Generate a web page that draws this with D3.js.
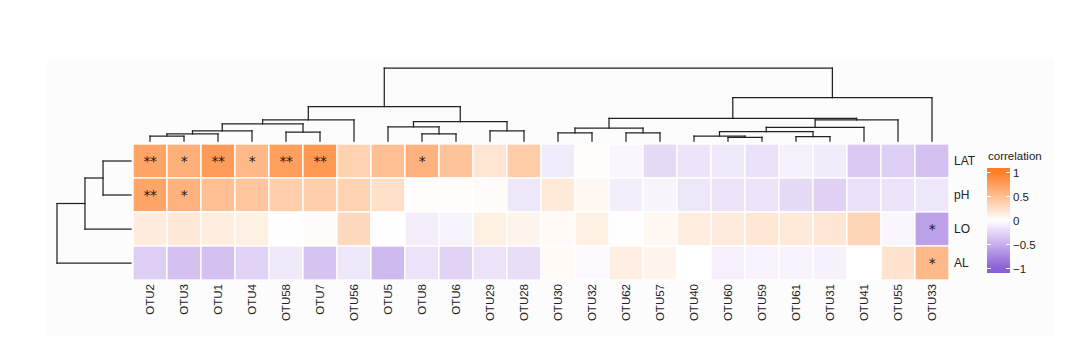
<!DOCTYPE html>
<html><head><meta charset="utf-8">
<script src="https://cdn.jsdelivr.net/npm/d3@7"></script>
<style>
html,body{margin:0;padding:0;background:#fff;}
svg{display:block;font-family:"Liberation Sans",Arial,sans-serif;}
</style></head>
<body><svg id="c" width="1080" height="357"></svg>
<script>
// ---------- data ----------
const colLabels = ["OTU2","OTU3","OTU1","OTU4","OTU58","OTU7","OTU56","OTU5","OTU8","OTU6","OTU29","OTU28",
  "OTU30","OTU32","OTU62","OTU57","OTU40","OTU60","OTU59","OTU61","OTU31","OTU41","OTU55","OTU33"];
const rowLabels = ["LAT","pH","LO","AL"];

const valLAT = [0.70,0.62,0.78,0.55,0.75,0.80,0.35,0.50,0.60,0.47,0.20,0.40,
  -0.12,0.02,-0.05,-0.22,-0.16,-0.13,-0.19,-0.09,-0.11,-0.33,-0.30,-0.38];
const valPH  = [0.70,0.60,0.50,0.45,0.38,0.38,0.35,0.25,0.02,0.02,0.03,-0.15,
  0.17,0.06,-0.10,-0.06,-0.15,-0.17,-0.17,-0.22,-0.28,-0.18,-0.17,-0.15];
const valLO  = [0.15,0.18,0.14,0.12,-0.01,0.03,0.30,-0.01,-0.10,-0.07,0.12,0.09,
  0.04,0.12,-0.01,0.06,0.14,0.16,0.19,0.17,0.20,0.33,-0.05,-0.58];
const valAL  = [-0.30,-0.38,-0.38,-0.27,-0.13,-0.36,-0.15,-0.42,-0.17,-0.27,-0.17,-0.20,
  0.04,-0.04,0.13,0.08,0.00,-0.09,-0.07,-0.07,-0.08,0.00,0.22,0.55];

const sigLAT = ["**","*","**","*","**","**","","","*","","","","","","","","","","","","","","",""];
const sigPH  = ["**","*","","","","","","","","","","","","","","","","","","","","","",""];
const sigLO  = ["","","","","","","","","","","","","","","","","","","","","","","","*"];
const sigAL  = ["","","","","","","","","","","","","","","","","","","","","","","","*"];

// column clustering: [left, right, height]; strings = leaves, numbers = earlier merges
const colMerge = [
  ["OTU2","OTU3",0.068], [0,"OTU1",0.096], [1,"OTU4",0.137], ["OTU58","OTU7",0.123],
  [2,3,0.233], [4,"OTU56",0.288], ["OTU8","OTU6",0.096], ["OTU5",6,0.192],
  ["OTU29","OTU28",0.137], [7,8,0.264], [5,9,0.47], ["OTU30","OTU32",0.11],
  ["OTU62","OTU57",0.11], [11,12,0.178], ["OTU60","OTU59",0.05], ["OTU40",14,0.068],
  ["OTU61","OTU31",0.059], [15,16,0.127], [17,"OTU41",0.188], [18,"OTU55",0.288],
  [13,19,0.311], [20,"OTU33",0.593], [10,21,1.0]
];
const rowMerge = [["LAT","pH",0.378],[0,"LO",0.622],[1,"AL",1.0]];

const legendTicks = [-1,-0.5,0,0.5,1];
const legendTickLabels = ["\u22121","\u22120.5","0","0.5","1"];

// ---------- layout ----------
const svg = d3.select("#c");
svg.append("rect").attr("x",47).attr("y",59).attr("width",1007).attr("height",277).attr("fill","#fcfcfc");

const x = d3.scaleBand().domain(colLabels).range([133,949]).padding(0);
const y = d3.scaleBand().domain(rowLabels).range([144,280]).padding(0);
const color = d3.scaleLinear().domain([-1,0,1]).range(["#8860d6","#ffffff","#ff7d24"])
  .interpolate(d3.interpolateLab).clamp(true);

const rows = [valLAT,valPH,valLO,valAL];
const sigs = [sigLAT,sigPH,sigLO,sigAL];
const cells = [];
rowLabels.forEach((r,i)=>colLabels.forEach((c,j)=>cells.push({r,c,v:rows[i][j],s:sigs[i][j]})));

const g = svg.append("g");
g.selectAll("rect.cell").data(cells).join("rect").attr("class","cell")
  .attr("x",d=>x(d.c)).attr("y",d=>y(d.r))
  .attr("width",x.bandwidth()).attr("height",y.bandwidth())
  .attr("fill",d=>color(d.v)).attr("stroke","#ffffff").attr("stroke-width",1.3);

g.selectAll("text.sig").data(cells.filter(d=>d.s)).join("text").attr("class","sig")
  .attr("x",d=>x(d.c)+x.bandwidth()/2).attr("y",d=>y(d.r)+y.bandwidth()/2+5)
  .attr("text-anchor","middle").attr("font-size",14).attr("fill","#1a1a1a")
  .attr("font-family","'DejaVu Sans',sans-serif").attr("letter-spacing",-0.5)
  .text(d=>d.s);

// axis labels
const xAxis = d3.axisBottom(x).tickSize(0).tickPadding(0);
const xa = svg.append("g").attr("transform","translate(0,284)").call(xAxis);
xa.select(".domain").remove();
xa.selectAll("text").attr("font-size",11.5).attr("fill","#222")
  .attr("font-family","'Liberation Sans',Arial,sans-serif")
  .attr("transform","rotate(-90)").attr("text-anchor","end")
  .attr("x",0).attr("y",0).attr("dx",0).attr("dy","0.35em");

const yAxis = d3.axisRight(y).tickSize(0).tickPadding(0);
const ya = svg.append("g").attr("transform","translate(954,0)").call(yAxis);
ya.select(".domain").remove();
ya.selectAll("text").attr("font-size",12).attr("fill","#222")
  .attr("font-family","'Liberation Sans',Arial,sans-serif");

// ---------- dendrograms ----------
function buildTree(merge){
  const nodes = merge.map(()=>null);
  const leaf = n => ({name:n, height:0});
  merge.forEach((m,i)=>{
    const kids = [m[0],m[1]].map(k=> typeof k==="string" ? leaf(k) : nodes[k]);
    nodes[i] = {name:"n"+i, height:m[2], children:kids};
  });
  return d3.hierarchy(nodes[nodes.length-1]);
}
function drawDendro(root, posScale, hScale, vertical, leafEnd){
  root.eachAfter(n=>{
    if(!n.children) n.p = posScale(n.data.name)+posScale.bandwidth()/2;
    else n.p = (n.children[0].p + n.children[1].p)/2;
    n.h = n.children ? hScale(n.data.height) : leafEnd;
  });
  const segs = [];
  root.each(n=>{
    if(!n.children) return;
    const [a,b] = n.children;
    segs.push([a.p,n.h,b.p,n.h]);
    segs.push([a.p,n.h,a.p,a.h]);
    segs.push([b.p,n.h,b.p,b.h]);
  });
  const gd = svg.append("g").attr("stroke","#222").attr("stroke-width",1.25).attr("fill","none");
  gd.selectAll("line").data(segs).join("line")
    .attr("x1",d=> vertical? d[0]:d[1]).attr("y1",d=> vertical? d[1]:d[0])
    .attr("x2",d=> vertical? d[2]:d[3]).attr("y2",d=> vertical? d[3]:d[2])
    .attr("stroke-linecap","square");
}
const colH = d3.scaleLinear().domain([0,1]).range([141,68]);
drawDendro(buildTree(colMerge), x, colH, true, 141);
const rowH = d3.scaleLinear().domain([0,1]).range([131,57]);
drawDendro(buildTree(rowMerge), y, rowH, false, 131);

// ---------- legend ----------
const lg = svg.append("g");
const lY = d3.scaleLinear().domain([-1,1]).range([268.5,172.5]);
const defs = svg.append("defs");
const grad = defs.append("linearGradient").attr("id","lg").attr("x1",0).attr("x2",0).attr("y1",1).attr("y2",0);
const lMin = lY.invert(273), lMax = lY.invert(168);
d3.range(0,21).forEach(i=>{
  const v = lMin + (lMax-lMin)*i/20;
  grad.append("stop").attr("offset",(i/20*100)+"%").attr("stop-color",color(v));
});
lg.append("rect").attr("x",987).attr("y",168).attr("width",23).attr("height",105).attr("fill","url(#lg)");
lg.selectAll("line.tl").data(legendTicks).join("line").attr("class","tl")
  .attr("x1",987).attr("x2",991).attr("y1",d=>lY(d)).attr("y2",d=>lY(d))
  .attr("stroke","#fff").attr("stroke-width",1);
lg.selectAll("line.tr").data(legendTicks).join("line").attr("class","tr")
  .attr("x1",1006).attr("x2",1010).attr("y1",d=>lY(d)).attr("y2",d=>lY(d))
  .attr("stroke","#fff").attr("stroke-width",1);
lg.selectAll("text.ll").data(legendTicks).join("text").attr("class","ll")
  .attr("x",1013).attr("y",d=>lY(d)+4).attr("font-size",11.5).attr("fill","#222")
  .text((d,i)=>legendTickLabels[i]);
lg.append("text").attr("x",988).attr("y",160).attr("font-size",11.5).attr("fill","#222").text("correlation");
</script></body></html>
